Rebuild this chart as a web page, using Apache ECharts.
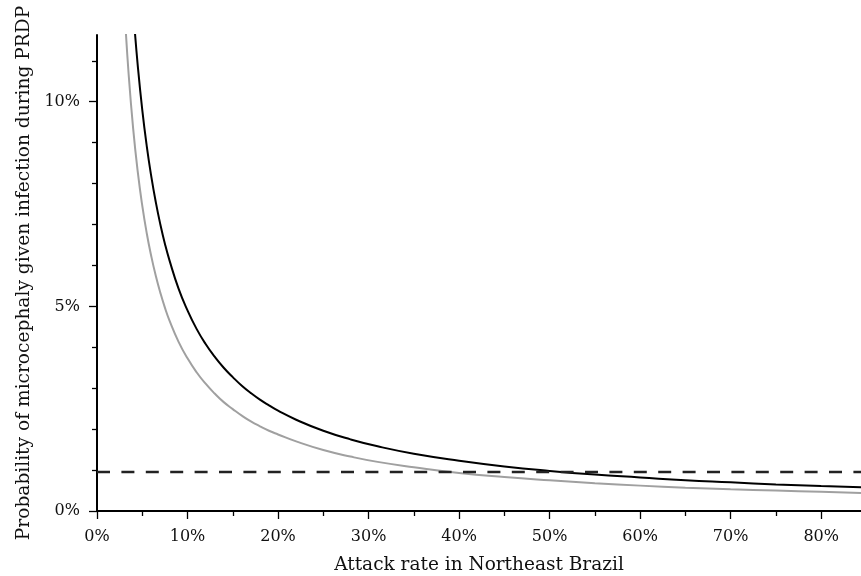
<!DOCTYPE html>
<html>
<head>
<meta charset="utf-8">
<script src="https://cdn.jsdelivr.net/npm/echarts@6/dist/echarts.min.js"></script>
<style>
  html, body { margin: 0; padding: 0; background: #ffffff; }
  #chart { width: 861px; height: 576px; }
</style>
</head>
<body>
<div id="chart"></div>
<script>
// attack rate (%) and probability (%)
const attackRateBlack = [4.1, 4.5, 5, 5.5, 6, 6.5, 7, 7.5, 8, 9, 10, 11, 12, 13, 14, 15, 16, 17, 18, 19, 20, 22, 25, 28, 31, 35, 40, 45, 50, 55, 60, 65, 70, 75, 80, 84.4]
const probBlack = [11.95, 10.89, 9.8, 8.91, 8.17, 7.54, 7.0, 6.53, 6.13, 5.44, 4.9, 4.45, 4.08, 3.77, 3.5, 3.27, 3.06, 2.88, 2.72, 2.58, 2.45, 2.23, 1.96, 1.75, 1.58, 1.4, 1.23, 1.09, 0.98, 0.89, 0.82, 0.75, 0.7, 0.65, 0.61, 0.58]

const attackRateGrey = [3.1, 3.5, 4, 4.5, 5, 5.5, 6, 6.5, 7, 7.5, 8, 9, 10, 11, 12, 13, 14, 15, 16, 17, 18, 19, 20, 22, 25, 28, 31, 35, 40, 45, 50, 55, 60, 65, 70, 75, 80, 84.4]
const probGrey = [12.03, 10.66, 9.33, 8.29, 7.46, 6.78, 6.22, 5.74, 5.33, 4.97, 4.66, 4.14, 3.73, 3.39, 3.11, 2.87, 2.66, 2.49, 2.33, 2.19, 2.07, 1.96, 1.87, 1.7, 1.49, 1.33, 1.2, 1.07, 0.93, 0.83, 0.75, 0.68, 0.62, 0.57, 0.53, 0.5, 0.47, 0.44]

const referenceLevel = 0.95

const xMax = 84.4
const yMax = 11.63
const xMajorTicks = [0, 10, 20, 30, 40, 50, 60, 70, 80]
const xMinorTicks = [5, 15, 25, 35, 45, 55, 65, 75]
const yMajorTicks = [0, 5, 10]
const yMinorTicks = [1, 2, 3, 4, 6, 7, 8, 9, 11]

const fontFamily = '"DejaVu Serif", "Liberation Serif", serif'
const textColor = '#111'

const pairs = (xs, ys) => xs.map((x, i) => [x, ys[i]])

const majorAxis = (ticks, labelMargin, nameSize, extra) => Object.assign({
  type: 'value',
  min: 0,
  splitLine: { show: false },
  axisLine: { show: true, onZero: false, lineStyle: { color: '#000', width: 2 } },
  axisTick: { show: true, customValues: ticks, length: 8, lineStyle: { color: '#000', width: 1.3 } },
  axisLabel: {
    customValues: ticks,
    color: textColor,
    fontFamily,
    fontSize: 16,
    margin: labelMargin,
    formatter: (v) => `${v}%`
  },
  nameLocation: 'middle',
  nameTextStyle: { color: textColor, fontFamily, fontSize: nameSize }
}, extra)

const minorAxis = (ticks, extra) => Object.assign({
  type: 'value',
  min: 0,
  splitLine: { show: false },
  axisLine: { show: false },
  axisTick: { show: true, customValues: ticks, length: 5, lineStyle: { color: '#000', width: 1.3 } },
  axisLabel: { show: false }
}, extra)

const chart = echarts.init(document.getElementById('chart'))

chart.setOption({
  animation: false,
  grid: { left: 97, right: 0, top: 35, bottom: 65, containLabel: false, outerBoundsMode: 'none' },
  xAxis: [
    majorAxis(xMajorTicks, 18, 18.5, {
      max: xMax,
      position: 'bottom',
      name: 'Attack rate in Northeast Brazil',
      nameGap: 45
    }),
    minorAxis(xMinorTicks, { max: xMax, position: 'bottom' })
  ],
  yAxis: [
    majorAxis(yMajorTicks, 17, 18.6, {
      max: yMax,
      position: 'left',
      name: 'Probability of microcephaly given infection during PRDP',
      nameGap: 63
    }),
    minorAxis(yMinorTicks, { max: yMax, position: 'left' })
  ],
  series: [
    {
      type: 'line',
      data: pairs(attackRateGrey, probGrey),
      smooth: 0.5,
      showSymbol: false,
      clip: true,
      lineStyle: { color: '#a0a0a0', width: 2 }
    },
    {
      type: 'line',
      data: pairs(attackRateBlack, probBlack),
      smooth: 0.5,
      showSymbol: false,
      clip: true,
      lineStyle: { color: '#000', width: 2 }
    },
    {
      type: 'line',
      data: [[0, referenceLevel], [xMax, referenceLevel]],
      showSymbol: false,
      lineStyle: { color: '#222', width: 2.5, type: [13, 11.4] }
    }
  ]
})
</script>
</body>
</html>
